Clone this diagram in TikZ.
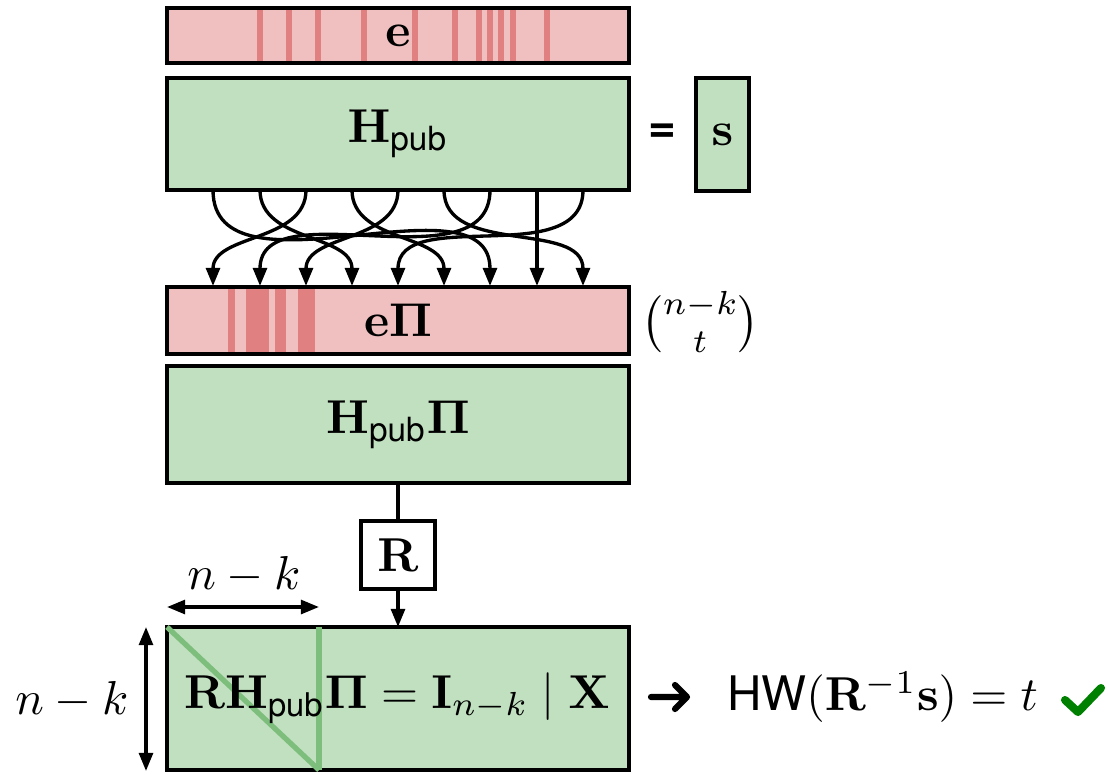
\documentclass[tikz,border=0pt]{standalone}
\usepackage{amsmath}
\usepackage[no-math]{fontspec}
\setsansfont{TeX Gyre Heros}
\usetikzlibrary{arrows.meta}

\definecolor{rowred}{RGB}{240,192,192}
\definecolor{bitred}{RGB}{224,128,128}
\definecolor{matgreen}{RGB}{193,224,192}
\definecolor{diaggreen}{RGB}{125,190,125}
\definecolor{okgreen}{RGB}{0,128,0}

\tikzset{
  mat/.style 2 args={draw, line width=0.75pt, inner sep=0pt, outer sep=0pt,
    minimum width=#1*0.21pt, minimum height=#2*0.21pt},
  errbar/.style 2 args={mat={#1}{#2}, fill=rowred},
  pubmat/.style 2 args={mat={#1}{#2}, fill=matgreen},
  bit/.style={fill=bitred},
  link/.style={line width=0.7pt, -{Triangle[length=3.8pt,width=2.9pt]}},
  dim/.style={line width=0.7pt, {Triangle[length=3.8pt,width=2.9pt]}-{Triangle[length=3.8pt,width=2.9pt]}},
  diag/.style={draw=diaggreen, line width=1.1pt},
  label/.style={inner sep=0pt, outer sep=0pt},
  heavy/.style={line width=1.3pt, line cap=round, line join=round},
}

\begin{document}
\begin{tikzpicture}[x=0.21pt,y=-0.21pt]
\useasboundingbox (0,0) rectangle (1108,774);

% error vector e with its scattered non-zero positions
\node[errbar={462}{55}] (e) at (398,35.5) {};
\foreach \c in {260,289,318,364,415,455,479,490,501,513,547}
  \fill[bit] (\c-3,10) rectangle (\c+3,61);
\node[label] (elbl) at (e.center) {$\mathbf{e}$};

% public parity-check matrix and syndrome
\node[pubmat={462}{112}] (Hpub) at (398,134) {$\mathbf{H}_{\textsf{pub}}$};
\node[label] (eq) at (662,133) {\textsf{\bfseries =}};
\node[pubmat={53}{113}] (s) at (722.5,134.5) {$\mathbf{s}$};

% permuted error vector
\node[errbar={462}{67}] (ePi) at (398,320.5) {};
\fill[bit] (228,289) rectangle (235,352);
\fill[bit] (246,289) rectangle (269,352);
\fill[bit] (275,289) rectangle (286,352);
\fill[bit] (298,289) rectangle (315,352);
\node[label] (ePilbl) at (ePi.center) {$\mathbf{e}\mathbf{\Pi}$};
\node[label] (binom) at (700,322) {$\binom{n-k}{t}$};

% permutation of the columns
\foreach \i/\x in {1/213,2/260,3/306,4/352,5/398,6/444,7/490,8/537,9/583} {
  \coordinate (src\i) at (\x,190);
  \coordinate (dst\i) at (\x,286);
}
\foreach \a/\b in {1/7,2/4,3/1,4/6,5/3,6/9,7/2,9/5}
  \draw[link] (src\a) to[out=-90,in=90] (dst\b);
\draw[link] (src8) -- (dst8);

% permuted matrix
\node[pubmat={462}{117}] (HPi) at (398,424.5) {$\mathbf{H}_{\textsf{pub}}\mathbf{\Pi}$};

% row reduction R
\node[mat={74}{68}, fill=white] (R) at (398,555) {$\mathbf{R}$};
\node[pubmat={462}{143}] (sys) at (398,698.5) {};
\draw[line width=0.7pt] (HPi) -- (R);
\draw[link] (R) -- (sys);

% identity part of the systematic form
\coordinate (idtr) at (319,627);
\coordinate (idbr) at (319,770);
\draw[diag] (sys.north west) -- (idbr);
\draw[diag] (idtr) -- (idbr);
\node[label] (syslbl) at (397,698) {\fontsize{9.8}{12}\selectfont$\mathbf{R}\mathbf{H}_{\textsf{pub}}\mathbf{\Pi} = \mathbf{I}_{n-k} \mid \mathbf{X}$};

% dimensions
\coordinate (hl) at (167,607);
\coordinate (hr) at (319,607);
\draw[dim] (hl) -- (hr);
\node[label] (hdim) at (244,575) {$n-k$};
\coordinate (vt) at (146,627);
\coordinate (vb) at (146,771);
\draw[dim] (vt) -- (vb);
\node[label] (vdim) at (72,700) {$n-k$};

% weight check
\coordinate (ka) at (651,697);
\coordinate (kb) at (687,697);
\coordinate (kc) at (675,685);
\coordinate (kd) at (675,709);
\draw[heavy] (ka) -- (kb) (kc) -- (kb) -- (kd);
\node[label, anchor=west] (hw) at (727,697) {\textsf{HW}$(\mathbf{R}^{-1}\mathbf{s}) = t$};
\coordinate (ck1) at (1065,700);
\coordinate (ck2) at (1078,712);
\coordinate (ck3) at (1101,688);
\draw[heavy, draw=okgreen, line width=1.7pt] (ck1) -- (ck2) -- (ck3);
\end{tikzpicture}
\end{document}
